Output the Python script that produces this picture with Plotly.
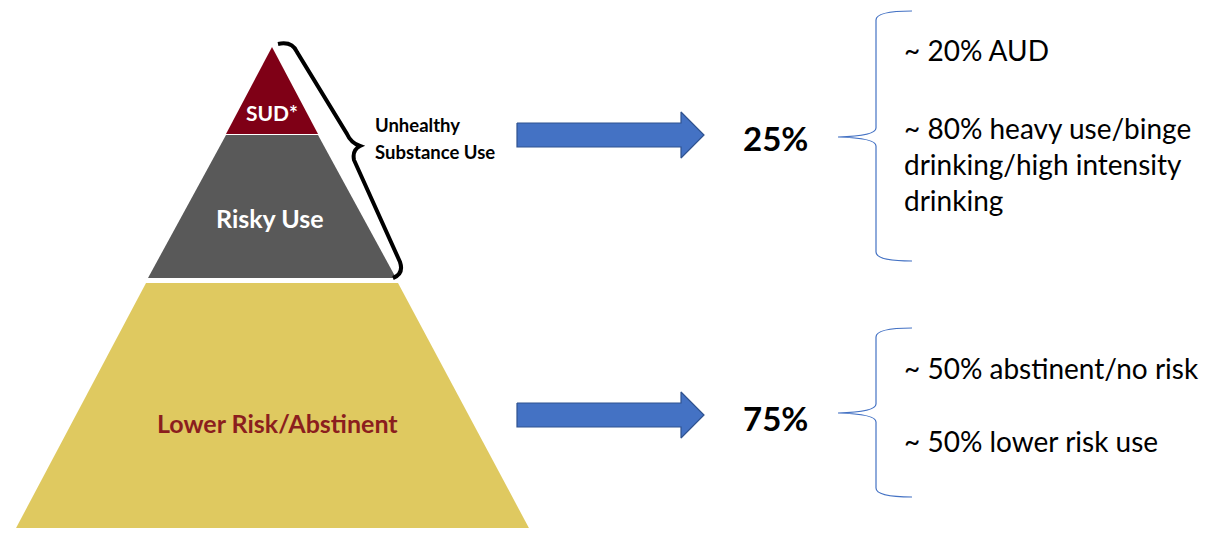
import plotly.graph_objects as go

# ---- content ----
layer_names = ["SUD*", "Risky Use", "Lower Risk/Abstinent"]
group_label = ["Unhealthy", "Substance Use"]
group_shares = ["25%", "75%"]
upper_notes = ["~ 20% AUD", "~ 80% heavy use/binge", "drinking/high intensity", "drinking"]
lower_notes = ["~ 50% abstinent/no risk", "~ 50% lower risk use"]

# ---- geometry (pixel space) ----
sud_x = [272, 226, 318]
sud_y = [47, 134, 134]
risky_x = [226, 318, 396, 148]
risky_y = [135, 135, 278, 278]
lower_x = [146, 398, 530, 15]
lower_y = [283, 283, 530, 530]
layer_fill = ["#7F0016", "#595959", "#DFC960"]
layer_text_xy = [(272, 112), (270, 218), (277, 423)]
layer_text_size = [21, 25, 25]
layer_text_color = ["white", "white", "#8B1E1E"]

arrow_cy = [135, 415]

FONT = "Lato"
OFF = 8  # page body margin

fig = go.Figure()

for xs, ys, col in [(sud_x, sud_y, layer_fill[0]), (risky_x, risky_y, layer_fill[1]), (lower_x, lower_y, layer_fill[2])]:
    fig.add_trace(go.Scatter(x=xs + [xs[0]], y=ys + [ys[0]], fill="toself", fillcolor=col,
                             line=dict(width=0, color=col), mode="lines", hoverinfo="skip", showlegend=False))

# blue arrows
for cy in arrow_cy:
    ax = [517, 681, 681, 704, 681, 681, 517, 517]
    ay = [cy - 12, cy - 12, cy - 23, cy, cy + 23, cy + 12, cy + 12, cy - 12]
    fig.add_trace(go.Scatter(x=ax, y=ay, fill="toself", fillcolor="#4472C4",
                             line=dict(width=1.2, color="#2F528F"), mode="lines", hoverinfo="skip", showlegend=False))

annotations = []
for name, (tx, ty), sz, col in zip(layer_names, layer_text_xy, layer_text_size, layer_text_color):
    annotations.append(dict(x=tx, y=ty, text=f"<b>{name}</b>", showarrow=False,
                            font=dict(family=FONT, size=sz, color=col), xanchor="center", yanchor="middle"))

for i, t in enumerate(group_label):
    annotations.append(dict(x=373, y=125 + i * 27, text=f"<b>{t}</b>", showarrow=False,
                            font=dict(family=FONT, size=18.5, color="black"), xanchor="left", yanchor="middle"))

for t, cy in zip(group_shares, arrow_cy):
    annotations.append(dict(x=775, y=cy + 3, text=f"<b>{t}</b>", showarrow=False,
                            font=dict(family=FONT, size=33, color="black"), xanchor="center", yanchor="middle"))

for t, ty in zip(upper_notes, [50, 128, 164, 200]):
    annotations.append(dict(x=902, y=ty, text=t, showarrow=False,
                            font=dict(family=FONT, size=28, color="black"), xanchor="left", yanchor="middle"))
for t, ty in zip(lower_notes, [368, 441]):
    annotations.append(dict(x=902, y=ty, text=t, showarrow=False,
                            font=dict(family=FONT, size=28, color="black"), xanchor="left", yanchor="middle"))

shapes = [
    # black brace along the pyramid
    dict(type="path", xref="x", yref="y",
         path="M 278,44 Q 292,41 297,52 L 347,134 Q 351,143 360,146 Q 352,150 354,160 L 400,262 Q 404,274 393,278",
         line=dict(color="black", width=4)),
]
for top, mid, bot in [(11, 137, 261), (328, 413, 497)]:
    shapes.append(dict(type="path", xref="x", yref="y",
                       path=f"M 912,{top} Q 876,{top} 876,{top+9} L 876,{mid-9} Q 876,{mid-1} 838,{mid} "
                            f"Q 876,{mid+1} 876,{mid+9} L 876,{bot-9} Q 876,{bot} 912,{bot}",
                       line=dict(color="#4472C4", width=1.2)))

W, H = 1209, 536
fig.update_layout(
    width=W - 2 * OFF, height=H - 2 * OFF,
    margin=dict(l=0, r=0, t=0, b=0),
    paper_bgcolor="white", plot_bgcolor="white",
    xaxis=dict(range=[OFF, W - OFF], visible=False, fixedrange=True),
    yaxis=dict(range=[H - OFF, OFF], visible=False, fixedrange=True),
    annotations=annotations, shapes=shapes, showlegend=False,
)

fig.write_html("out.html")
